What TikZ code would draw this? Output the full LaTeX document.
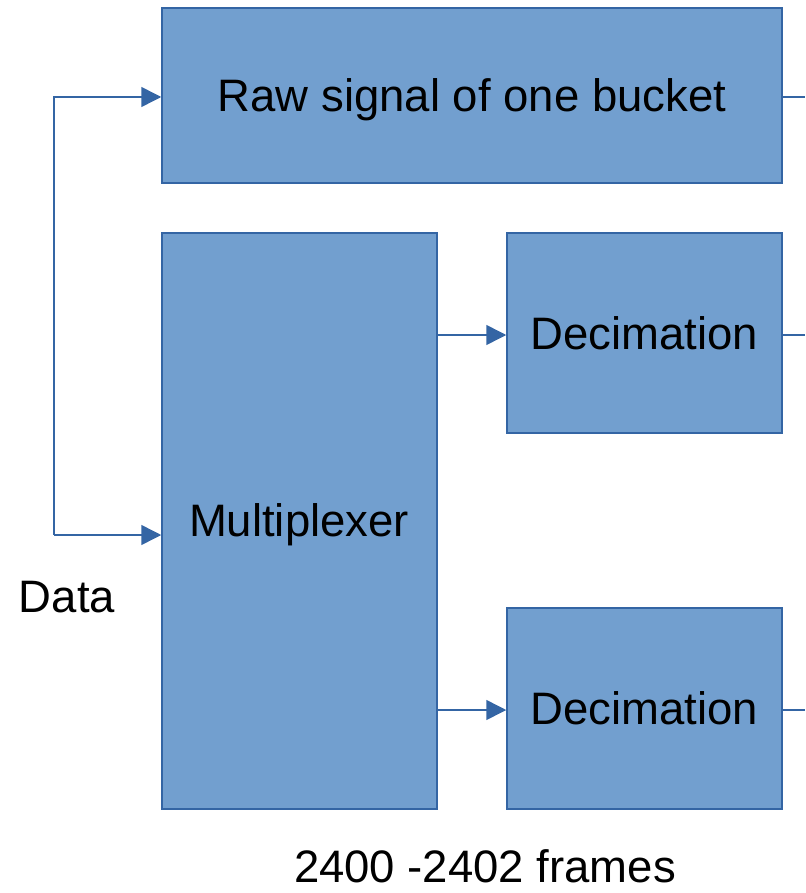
\documentclass[tikz,border=0pt]{standalone}
\usepackage{fontspec}
\setmainfont{Liberation Sans}
\usetikzlibrary{arrows.meta}
\definecolor{boxfill}{HTML}{729FCF}
\definecolor{boxline}{HTML}{3465A4}
\begin{document}
\begin{tikzpicture}[x=1pt,y=-1pt,
  block/.style={draw=boxline, line width=1.5pt, fill=boxfill, inner sep=0pt,
    font=\fontsize{45.5}{50}\selectfont, text=black, text depth=0pt},
  link/.style={draw=boxline, line width=1.5pt},
  flow/.style={link, -{Triangle[length=20pt,width=20pt]}},
  label/.style={font=\fontsize{45.5}{50}\selectfont, text=black, inner sep=0pt, text depth=0pt}]
  \useasboundingbox (0,0) rectangle (805,893);

  % blocks
  \node[block, minimum width=620pt, minimum height=175pt] (raw) at (472,95.5) {Raw signal of one bucket};
  \node[block, minimum width=275pt, minimum height=576pt] (mux) at (299.5,521) {};
  \node[label] (muxtxt) at (299,520) {Multiplexer};
  \node[block, minimum width=275pt, minimum height=200pt] (dec1) at (644.5,333) {Decimation};
  \node[block, minimum width=275pt, minimum height=201pt] (dec2) at (644.5,708.5) {Decimation};

  % labels
  \node[label] (data) at (67,597) {Data};
  \node[label] (frames) at (485,866) {2400 -2402 frames};

  % data input split
  \coordinate (split) at (54,535);
  \coordinate (top) at (54,97);
  \draw[flow] (split) -- (split -| mux.west);
  \draw[flow] (split) -- (top) -- (top -| raw.west);

  % multiplexer to decimation
  \draw[flow] (mux.east |- 0,335) -- (dec1.west |- 0,335);
  \draw[flow] (mux.east |- 0,710) -- (dec2.west |- 0,710);

  % outputs leaving to the right
  \coordinate (o1) at (805,97);
  \coordinate (o2) at (805,335);
  \coordinate (o3) at (805,710);
  \draw[link] (raw.east |- o1) -- (o1);
  \draw[link] (dec1.east |- o2) -- (o2);
  \draw[link] (dec2.east |- o3) -- (o3);
\end{tikzpicture}
\end{document}
